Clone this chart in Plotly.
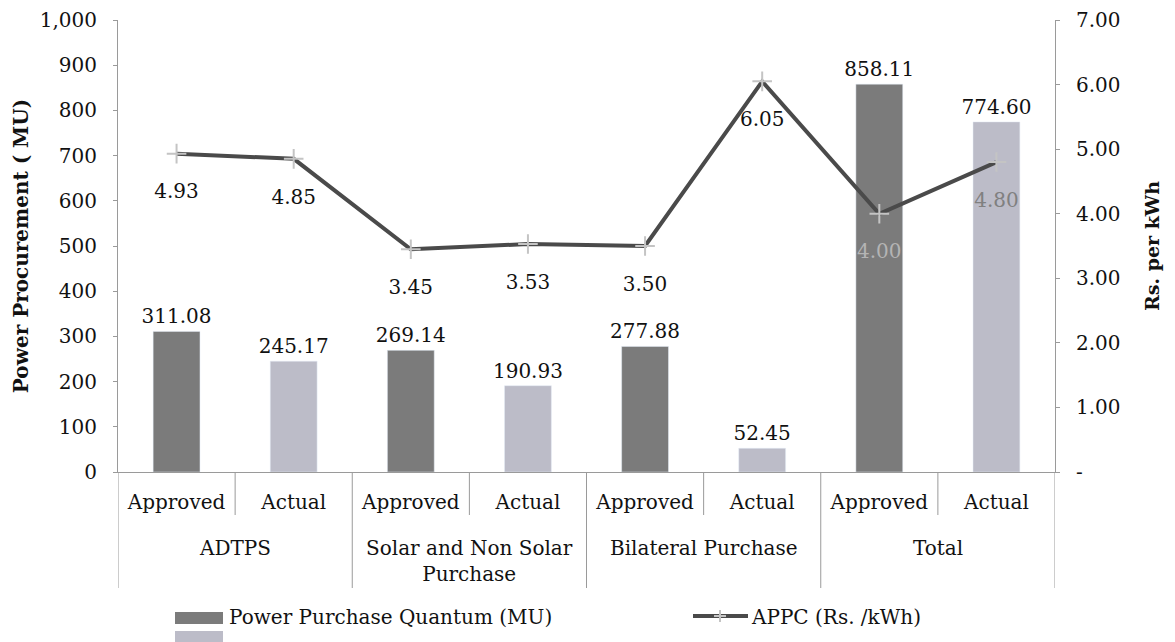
import plotly.graph_objects as go

# ---------------- data ----------------
groups = ["ADTPS", "Solar and Non Solar<br>Purchase", "Bilateral Purchase", "Total"]
subcats = ["Approved", "Actual"]
approved_mu = [311.08, 269.14, 277.88, 858.11]
actual_mu = [245.17, 190.93, 52.45, 774.60]
appc = [4.93, 4.85, 3.45, 3.53, 3.50, 6.05, 4.00, 4.80]
appc_text_colors = ["#111111"] * 6 + ["#b4b4b4", "#808080"]
left_ticks = [0, 100, 200, 300, 400, 500, 600, 700, 800, 900, 1000]
right_ticks = [0, 1, 2, 3, 4, 5, 6, 7]
right_tick_text = ["-", "1.00", "2.00", "3.00", "4.00", "5.00", "6.00", "7.00"]
legend_bar_label = "Power Purchase Quantum (MU)"
legend_line_label = "APPC (Rs. /kWh)"

# category keys (group|sub) shown with the sub label only
keys = [f"{g}|{s}" for g in groups for s in subcats]
sub_labels = [s for _ in groups for s in subcats]
approved_keys = [f"{g}|Approved" for g in groups]
actual_keys = [f"{g}|Actual" for g in groups]

FONT = "DejaVu Serif"
AX = "#9a9a9a"
DARK = "#7b7b7b"
LIGHT = "#bcbcc8"
LINE = "#4a4a4a"

# figure geometry (page body has an 8px margin, so the figure is 8px smaller)
PAGE_OFF = 8
W, H = 1175 - PAGE_OFF, 642 - PAGE_OFF
ML, MT = 118 - PAGE_OFF, 20 - PAGE_OFF
PW, PH = 937, 452
MR, MB = W - ML - PW, H - MT - PH
PLOT_LEFT_SCREEN = ML + PAGE_OFF
PLOT_BOTTOM_SCREEN = MT + PAGE_OFF + PH


def px_x(x):
    """screen pixel x -> paper x"""
    return (x - PLOT_LEFT_SCREEN) / PW


def px_y(y):
    """screen pixel y -> paper y"""
    return (PLOT_BOTTOM_SCREEN - y) / PH


fig = go.Figure()

fig.add_trace(go.Bar(
    x=approved_keys, y=approved_mu, name=legend_bar_label, marker_color=DARK,
    width=0.4, text=[f"{v:.2f}" for v in approved_mu], textposition="outside",
    constraintext="none", textfont=dict(family=FONT, size=20, color="#111111"),
    cliponaxis=False, showlegend=False,
))
fig.add_trace(go.Bar(
    x=actual_keys, y=actual_mu, name=" ", marker_color=LIGHT,
    width=0.4, text=[f"{v:.2f}" for v in actual_mu], textposition="outside",
    constraintext="none", textfont=dict(family=FONT, size=20, color="#111111"),
    cliponaxis=False, showlegend=False,
))
fig.add_trace(go.Scatter(
    x=keys, y=appc, yaxis="y2", name=legend_line_label,
    mode="lines+markers",
    line=dict(color=LINE, width=4),
    marker=dict(symbol="cross-thin", size=14, line=dict(color="#c4c4c4", width=2)),
    showlegend=False,
))
# value labels of the line (transparent large markers push text down)
fig.add_trace(go.Scatter(
    x=keys, y=appc, yaxis="y2", mode="markers+text",
    marker=dict(size=46, color="rgba(0,0,0,0)"),
    text=[f"{v:.2f}" for v in appc], textposition="bottom center",
    textfont=dict(family=FONT, size=20, color=appc_text_colors),
    showlegend=False, hoverinfo="skip", cliponaxis=False,
))

n = len(keys)
shapes = []
# group dividers (outer) and inner separators
for i in range(0, n + 1, 2):
    shapes.append(dict(type="line", xref="x", yref="paper",
                       x0=i - 0.5, x1=i - 0.5, y0=0, y1=px_y(588),
                       line=dict(color=AX, width=1)))
for i in range(1, n, 2):
    shapes.append(dict(type="line", xref="x", yref="paper",
                       x0=i - 0.5, x1=i - 0.5, y0=0, y1=px_y(515),
                       line=dict(color=AX, width=1)))

annotations = []
for k, g in enumerate(groups):
    annotations.append(dict(xref="x", yref="paper", x=2 * k + 0.5, y=px_y(534),
                            text=g, showarrow=False, xanchor="center", yanchor="top",
                            font=dict(family=FONT, size=20, color="#111111")))

# manual legend
shapes.append(dict(type="rect", xref="paper", yref="paper",
                   x0=px_x(175), x1=px_x(223), y0=px_y(612), y1=px_y(624),
                   fillcolor=DARK, line=dict(width=0)))
shapes.append(dict(type="rect", xref="paper", yref="paper",
                   x0=px_x(175), x1=px_x(223), y0=px_y(631), y1=px_y(643),
                   fillcolor=LIGHT, line=dict(width=0)))
annotations.append(dict(xref="paper", yref="paper", x=px_x(227), y=px_y(617),
                        text=legend_bar_label, showarrow=False, xanchor="left",
                        yanchor="middle", font=dict(family=FONT, size=20, color="#111111")))
shapes.append(dict(type="line", xref="paper", yref="paper",
                   x0=px_x(693), x1=px_x(748), y0=px_y(616), y1=px_y(616),
                   line=dict(color=LINE, width=4)))
shapes.append(dict(type="line", xref="paper", yref="paper",
                   x0=px_x(714), x1=px_x(726), y0=px_y(616), y1=px_y(616),
                   line=dict(color="#c4c4c4", width=2)))
shapes.append(dict(type="line", xref="paper", yref="paper",
                   x0=px_x(720), x1=px_x(720), y0=px_y(610), y1=px_y(622),
                   line=dict(color="#c4c4c4", width=2)))
annotations.append(dict(xref="paper", yref="paper", x=px_x(749), y=px_y(617),
                        text=legend_line_label, showarrow=False, xanchor="left",
                        yanchor="middle", font=dict(family=FONT, size=20, color="#111111")))

fig.update_layout(
    width=W, height=H,
    margin=dict(l=ML, r=MR, t=MT, b=MB, autoexpand=False),
    paper_bgcolor="white", plot_bgcolor="white",
    font=dict(family=FONT, size=20, color="#111111"),
    barmode="overlay",
    showlegend=False,
    shapes=shapes,
    annotations=annotations,
    xaxis=dict(type="category", categoryorder="array", categoryarray=keys,
               tickvals=keys, ticktext=sub_labels, range=[-0.5, n - 0.5],
               showline=True, linecolor=AX, linewidth=1, showgrid=False,
               tickangle=0, ticks="", ticklabelstandoff=12, automargin=False,
               ticklabeloverflow="allow",
               tickfont=dict(family=FONT, size=20, color="#111111")),
    yaxis=dict(range=[0, 1000], tickvals=left_ticks, tickformat=",",
               showline=True, linecolor=AX, linewidth=1, showgrid=False,
               ticks="outside", ticklen=4, tickcolor=AX, zeroline=False,
               ticklabelstandoff=12, automargin=False, ticklabeloverflow="allow",
               tickfont=dict(family=FONT, size=20, color="#111111"),
               title=dict(text="<b>Power Procurement ( MU)</b>", standoff=5,
                          font=dict(family=FONT, size=20, color="#111111"))),
    yaxis2=dict(range=[0, 7], tickvals=right_ticks, ticktext=right_tick_text,
                overlaying="y", side="right",
                showline=True, linecolor=AX, linewidth=1, showgrid=False,
                ticks="outside", ticklen=4, tickcolor=AX, zeroline=False,
                ticklabelstandoff=12, automargin=False, ticklabeloverflow="allow",
                tickfont=dict(family=FONT, size=20, color="#111111"),
                title=dict(text="<b>Rs. per kWh</b>", standoff=26,
                           font=dict(family=FONT, size=19, color="#111111"))),
)

fig.write_html("out.html")
